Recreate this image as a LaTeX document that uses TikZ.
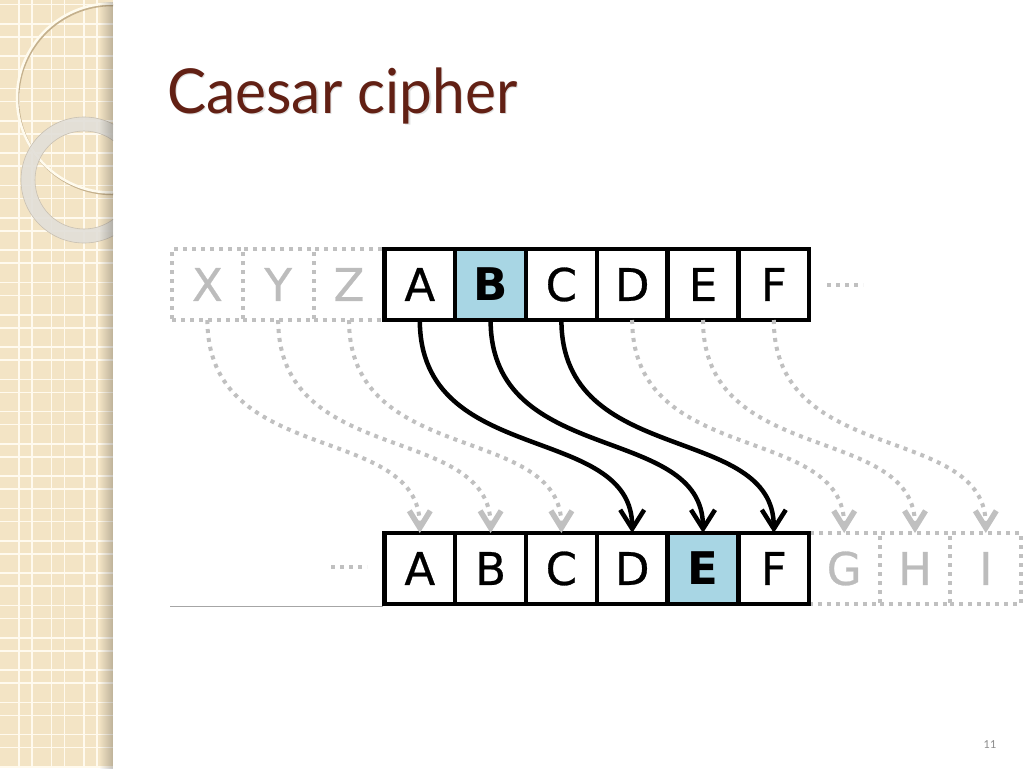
\documentclass[tikz,border=0pt]{standalone}
\usepackage{fontspec}
\usetikzlibrary{arrows.meta,fadings}
\newfontfamily\cellfont[FakeBold=0.6]{DejaVu Sans}
\newfontfamily\cellbold{DejaVu Sans Bold}
\newfontfamily\titlefont{Lato}
\definecolor{strip}{RGB}{243,228,197}
\definecolor{gridline}{RGB}{255,250,238}
\definecolor{titlecol}{RGB}{98,32,20}
\definecolor{cellblue}{RGB}{168,214,228}
\definecolor{dotgrey}{RGB}{192,192,192}
\definecolor{lettergrey}{RGB}{188,188,188}
\tikzset{
  cellbox/.style={draw=black, line width=4.5pt, minimum width=70.8pt, minimum height=71pt,
    inner sep=0pt, outer sep=0pt, font=\cellfont\fontsize{45}{45}\selectfont},
  ghostbox/.style={draw=dotgrey, line width=4pt, dash pattern=on 4pt off 5pt,
    minimum width=70.8pt, minimum height=71pt, inner sep=0pt, outer sep=0pt,
    text=lettergrey, font=\cellfont\fontsize{45}{45}\selectfont},
  shiftarrow/.style={line width=4.5pt, draw=black, -{Straight Barb[length=19pt,width=24pt]}},
  ghostarrow/.style={line width=4pt, draw=dotgrey, dash pattern=on 4pt off 5pt,
    -{Straight Barb[length=17pt,width=21pt,line width=5.5pt]}},
  ellipsisdots/.style={line width=4pt, draw=dotgrey, dash pattern=on 4pt off 5pt},
}
\begin{document}
\begin{tikzpicture}[x=1pt,y=-1pt]
\useasboundingbox (0,0) rectangle (1024,768);
\fill[white] (0,0) rectangle (1024,768);
% left decorative strip
\fill[strip] (0,0) rectangle (113,768);
\foreach \k in {0,...,24} {
  \draw[gridline, line width=1.6pt] (0,{4.7+32.3*\k}) -- (113,{4.7+32.3*\k});
  \draw[gridline, line width=1.6pt] (0,{24+32.3*\k}) -- (113,{24+32.3*\k});
}
\foreach \k in {0,1,2} {
  \draw[gridline, line width=1.6pt] ({19+32.5*\k},0) -- ({19+32.5*\k},768);
  \draw[gridline, line width=1.6pt] ({32+32.5*\k},0) -- ({32+32.5*\k},768);
}
\begin{scope}
  \clip (0,0) rectangle (113,768);
  \draw[line width=2.5pt, color={rgb,255:red,196;green,176;blue,140}] (112.5,99.5) circle (94.5);
  \draw[line width=2.5pt, color={rgb,255:red,255;green,251;blue,238}] (111.5,98) circle (94.5);
  \fill[even odd rule, color={rgb,255:red,226;green,223;blue,216}, opacity=0.9]
    (84,180) circle (63) (84,180) circle (49);
  \draw[line width=0.6pt, color={rgb,255:red,200;green,192;blue,178}] (84,180) circle (63);
  \draw[line width=0.6pt, color={rgb,255:red,200;green,192;blue,178}] (84,180) circle (49);
\end{scope}
\fill[black, opacity=0.22, path fading=west] (99,0) rectangle (113,768);
% title
\node[anchor=base west, inner sep=0pt, text=black!40, opacity=0.3,
  font=\titlefont\fontsize{62}{62}\selectfont, xscale=0.946] at (168.5,114.5) {Caesar cipher};
\node[anchor=base west, inner sep=0pt, text=titlecol,
  font=\titlefont\fontsize{62}{62}\selectfont, xscale=0.946] (title) at (167,113) {Caesar cipher};
% ghost cells
\node[ghostbox] (tX) at (207.4,284.5) {X};
\node[ghostbox] (tY) at (278.2,284.5) {Y};
\node[ghostbox] (tZ) at (349.0,284.5) {Z};
\node[ghostbox] (bG) at (844.2,568.5) {G};
\node[ghostbox] (bH) at (915.0,568.5) {H};
\node[ghostbox] (bI) at (985.8,568.5) {I};
% underline
\draw[line width=1pt, color=black!35] (170,606) -- (383,606);
% top row
\node[cellbox] (tA) at (419.8,284.5) {A};
\node[cellbox, fill=cellblue] (tB) at (490.6,284.5) {\cellbold B};
\node[cellbox] (tC) at (561.4,284.5) {C};
\node[cellbox] (tD) at (632.2,284.5) {D};
\node[cellbox] (tE) at (703.0,284.5) {E};
\node[cellbox] (tF) at (773.8,284.5) {F};
% bottom row
\node[cellbox] (bA) at (419.8,568.5) {A};
\node[cellbox] (bB) at (490.6,568.5) {B};
\node[cellbox] (bC) at (561.4,568.5) {C};
\node[cellbox] (bD) at (632.2,568.5) {D};
\node[cellbox, fill=cellblue] (bE) at (703.0,568.5) {\cellbold E};
\node[cellbox] (bF) at (773.8,568.5) {F};
% ellipses
\coordinate (dotsTa) at (827,284.5);
\coordinate (dotsTb) at (863,284.5);
\coordinate (dotsBa) at (331,567);
\coordinate (dotsBb) at (367,567);
\draw[ellipsisdots] (dotsTa) -- (dotsTb);
\draw[ellipsisdots] (dotsBa) -- (dotsBb);
% ghost arrows
\draw[ghostarrow] (tX.south) .. controls +(0,148) and +(0,-111) .. (bA.north);
\draw[ghostarrow] (tY.south) .. controls +(0,148) and +(0,-111) .. (bB.north);
\draw[ghostarrow] (tZ.south) .. controls +(0,148) and +(0,-111) .. (bC.north);
\draw[ghostarrow] (tD.south) .. controls +(0,148) and +(0,-111) .. (bG.north);
\draw[ghostarrow] (tE.south) .. controls +(0,148) and +(0,-111) .. (bH.north);
\draw[ghostarrow] (tF.south) .. controls +(0,148) and +(0,-111) .. (bI.north);
% shift arrows
\draw[shiftarrow] (tA.south) .. controls +(0,148) and +(0,-111) .. (bD.north);
\draw[shiftarrow] (tB.south) .. controls +(0,148) and +(0,-111) .. (bE.north);
\draw[shiftarrow] (tC.south) .. controls +(0,148) and +(0,-111) .. (bF.north);
% page number
\node[text=black!45, font=\titlefont\fontsize{11}{11}\selectfont] (pagenum) at (990,745) {11};
\end{tikzpicture}
\end{document}
